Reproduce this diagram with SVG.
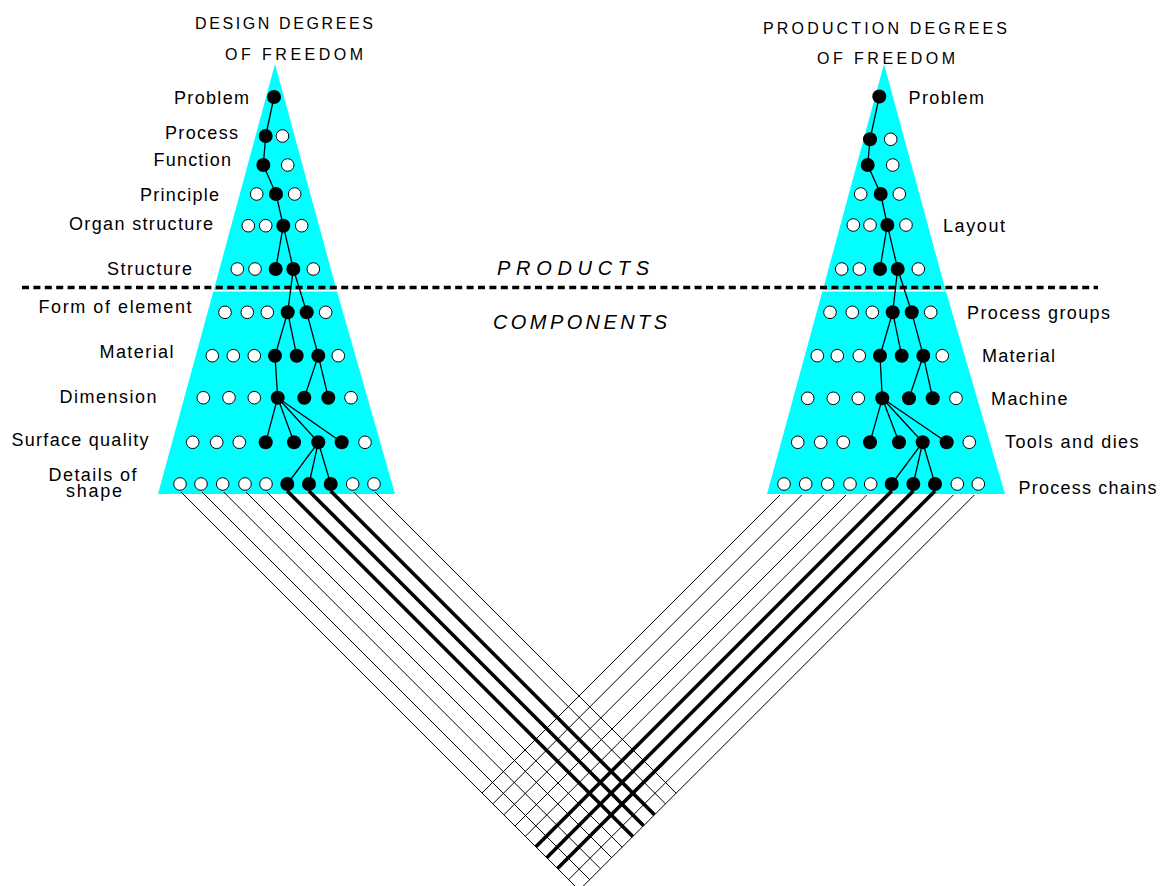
<svg xmlns="http://www.w3.org/2000/svg" width="1160" height="886" viewBox="0 0 1160 886">
<style>
.tri{fill:#00ffff;stroke:none}
.w{fill:#fff;stroke:#000;stroke-width:1}
.b{fill:#000;stroke:none}
.e{stroke:#000;stroke-width:1.3;fill:none}
.t{stroke:#000;stroke-width:1;fill:none}
.k{stroke:#000;stroke-width:3.6;fill:none}
.lbl{font-family:"Liberation Sans",Arial,sans-serif;font-size:18px;fill:#000}
.ttl{font-family:"Liberation Sans",Arial,sans-serif;font-size:16px;fill:#000}
.big{font-family:"Liberation Sans",Arial,sans-serif;font-size:20px;font-style:italic;fill:#000}
</style>
<rect width="1160" height="886" fill="#fff"/>
<g id="cone-left">
<polygon class="tri" points="275,64 213.8,290 336.5,290"/>
<polygon class="tri" points="213.3,291.5 337,291.5 395,494 158,494"/>
</g>
<g id="cone-right">
<polygon class="tri" points="884,64 822.8,290 945.5,290"/>
<polygon class="tri" points="822.3,291.5 946,291.5 1005,494 767,494"/>
</g>
<line id="divider" x1="22" y1="287.5" x2="1098" y2="287.5" stroke="#000" stroke-width="3.4" stroke-dasharray="7 4.4"/>
<g id="connectors">
<g id="tree-left">
<line class="e" x1="274" y1="97" x2="265.7" y2="136"/>
<line class="e" x1="265.7" y1="136" x2="263.3" y2="165"/>
<line class="e" x1="263.3" y1="165" x2="276" y2="194"/>
<line class="e" x1="276" y1="194" x2="283.3" y2="225.7"/>
<line class="e" x1="283.3" y1="225.7" x2="275.7" y2="269"/>
<line class="e" x1="283.3" y1="225.7" x2="293.3" y2="269"/>
<line class="e" x1="293.3" y1="269" x2="287.7" y2="312.3"/>
<line class="e" x1="293.3" y1="269" x2="306.7" y2="312.3"/>
<line class="e" x1="287.7" y1="312.3" x2="275" y2="355.7"/>
<line class="e" x1="287.7" y1="312.3" x2="296.7" y2="355.7"/>
<line class="e" x1="306.7" y1="312.3" x2="318.3" y2="355.7"/>
<line class="e" x1="275" y1="355.7" x2="277.7" y2="397.7"/>
<line class="e" x1="318.3" y1="355.7" x2="304.3" y2="397.7"/>
<line class="e" x1="318.3" y1="355.7" x2="328.3" y2="397.7"/>
<line class="e" x1="277.7" y1="397.7" x2="265.7" y2="442.3"/>
<line class="e" x1="277.7" y1="397.7" x2="294" y2="442.3"/>
<line class="e" x1="277.7" y1="397.7" x2="318.3" y2="442.3"/>
<line class="e" x1="277.7" y1="397.7" x2="341.7" y2="442.3"/>
<line class="e" x1="318.3" y1="442.3" x2="287.3" y2="484"/>
<line class="e" x1="318.3" y1="442.3" x2="309" y2="484"/>
<line class="e" x1="318.3" y1="442.3" x2="330.7" y2="484"/>
</g>
<g id="tree-right">
<line class="e" x1="879.3" y1="96.5" x2="870" y2="139.3"/>
<line class="e" x1="870" y1="139.3" x2="867.7" y2="165"/>
<line class="e" x1="867.7" y1="165" x2="880.7" y2="194"/>
<line class="e" x1="880.7" y1="194" x2="887.3" y2="225"/>
<line class="e" x1="887.3" y1="225" x2="880" y2="269"/>
<line class="e" x1="887.3" y1="225" x2="897.7" y2="269"/>
<line class="e" x1="897.7" y1="269" x2="892.7" y2="312.3"/>
<line class="e" x1="897.7" y1="269" x2="911.7" y2="312.3"/>
<line class="e" x1="892.7" y1="312.3" x2="880" y2="355.7"/>
<line class="e" x1="892.7" y1="312.3" x2="901.7" y2="355.7"/>
<line class="e" x1="911.7" y1="312.3" x2="923.3" y2="355.7"/>
<line class="e" x1="880" y1="355.7" x2="882.3" y2="398.3"/>
<line class="e" x1="923.3" y1="355.7" x2="909" y2="398.3"/>
<line class="e" x1="923.3" y1="355.7" x2="932.7" y2="398.3"/>
<line class="e" x1="882.3" y1="398.3" x2="870" y2="442.3"/>
<line class="e" x1="882.3" y1="398.3" x2="899" y2="442.3"/>
<line class="e" x1="882.3" y1="398.3" x2="922.7" y2="442.3"/>
<line class="e" x1="882.3" y1="398.3" x2="946.7" y2="442.3"/>
<line class="e" x1="922.7" y1="442.3" x2="891.7" y2="484"/>
<line class="e" x1="922.7" y1="442.3" x2="913.3" y2="484"/>
<line class="e" x1="922.7" y1="442.3" x2="935" y2="484"/>
</g>
<g id="chains-left">
<line class="t" x1="181" y1="492" x2="579.15" y2="890.15"/>
<line class="t" x1="202" y1="492" x2="589.65" y2="879.65"/>
<line class="t" x1="223.7" y1="492" x2="600.5" y2="868.8"/>
<line class="t" x1="246" y1="492" x2="611.65" y2="857.65"/>
<line class="t" x1="267" y1="492" x2="622.15" y2="847.15"/>
<line class="k" x1="287.3" y1="491" x2="632.8" y2="836.5"/>
<line class="k" x1="309" y1="491" x2="643.65" y2="825.65"/>
<line class="k" x1="330.7" y1="491" x2="654.5" y2="814.8"/>
<line class="t" x1="353.7" y1="492" x2="665.5" y2="803.8"/>
<line class="t" x1="375" y1="492" x2="676.15" y2="793.15"/>
</g>
<g id="chains-right">
<line class="t" x1="780" y1="495" x2="482" y2="793"/>
<line class="t" x1="801.7" y1="495" x2="492.85" y2="803.85"/>
<line class="t" x1="823.7" y1="495" x2="503.85" y2="814.85"/>
<line class="t" x1="846" y1="495" x2="515" y2="826"/>
<line class="t" x1="866.7" y1="495" x2="525.35" y2="836.35"/>
<line class="k" x1="891.7" y1="491" x2="535.85" y2="846.85"/>
<line class="k" x1="913.3" y1="491" x2="546.65" y2="857.65"/>
<line class="k" x1="935" y1="491" x2="557.5" y2="868.5"/>
<line class="t" x1="953.3" y1="495" x2="568.65" y2="879.65"/>
<line class="t" x1="974.3" y1="495" x2="579.15" y2="890.15"/>
</g>
</g>
<g id="left-problem"><circle class="b" cx="274" cy="97" r="7"/></g>
<g id="left-process"><circle class="b" cx="265.7" cy="136" r="7"/><circle class="w" cx="282.5" cy="136" r="6.3"/></g>
<g id="left-function"><circle class="b" cx="263.3" cy="165" r="7"/><circle class="w" cx="287.7" cy="165" r="6.3"/></g>
<g id="left-principle"><circle class="w" cx="256.7" cy="194" r="6.3"/><circle class="b" cx="276" cy="194" r="7"/><circle class="w" cx="294.7" cy="194" r="6.3"/></g>
<g id="left-organ"><circle class="w" cx="248.3" cy="225.7" r="6.3"/><circle class="w" cx="265.7" cy="225.7" r="6.3"/><circle class="b" cx="283.3" cy="225.7" r="7"/><circle class="w" cx="301.7" cy="225.7" r="6.3"/></g>
<g id="left-structure"><circle class="w" cx="237.3" cy="269" r="6.3"/><circle class="w" cx="255" cy="269" r="6.3"/><circle class="b" cx="275.7" cy="269" r="7"/><circle class="b" cx="293.3" cy="269" r="7"/><circle class="w" cx="313.3" cy="269" r="6.3"/></g>
<g id="left-form"><circle class="w" cx="225" cy="312.3" r="6.3"/><circle class="w" cx="247.3" cy="312.3" r="6.3"/><circle class="w" cx="267.3" cy="312.3" r="6.3"/><circle class="b" cx="287.7" cy="312.3" r="7"/><circle class="b" cx="306.7" cy="312.3" r="7"/><circle class="w" cx="325.7" cy="312.3" r="6.3"/></g>
<g id="left-material"><circle class="w" cx="212.3" cy="355.7" r="6.3"/><circle class="w" cx="233.3" cy="355.7" r="6.3"/><circle class="w" cx="254.3" cy="355.7" r="6.3"/><circle class="b" cx="275" cy="355.7" r="7"/><circle class="b" cx="296.7" cy="355.7" r="7"/><circle class="b" cx="318.3" cy="355.7" r="7"/><circle class="w" cx="338.3" cy="355.7" r="6.3"/></g>
<g id="left-dimension"><circle class="w" cx="203.3" cy="397.7" r="6.3"/><circle class="w" cx="229" cy="397.7" r="6.3"/><circle class="w" cx="254.3" cy="397.7" r="6.3"/><circle class="b" cx="277.7" cy="397.7" r="7"/><circle class="b" cx="304.3" cy="397.7" r="7"/><circle class="b" cx="328.3" cy="397.7" r="7"/><circle class="w" cx="351" cy="397.7" r="6.3"/></g>
<g id="left-surface"><circle class="w" cx="192.7" cy="442.3" r="6.3"/><circle class="w" cx="216.7" cy="442.3" r="6.3"/><circle class="w" cx="239.3" cy="442.3" r="6.3"/><circle class="b" cx="265.7" cy="442.3" r="7"/><circle class="b" cx="294" cy="442.3" r="7"/><circle class="b" cx="318.3" cy="442.3" r="7"/><circle class="b" cx="341.7" cy="442.3" r="7"/><circle class="w" cx="365" cy="442.3" r="6.3"/></g>
<g id="left-details"><circle class="w" cx="180" cy="484" r="6.3"/><circle class="w" cx="201" cy="484" r="6.3"/><circle class="w" cx="222.7" cy="484" r="6.3"/><circle class="w" cx="245" cy="484" r="6.3"/><circle class="w" cx="266" cy="484" r="6.3"/><circle class="b" cx="287.3" cy="484" r="7"/><circle class="b" cx="309" cy="484" r="7"/><circle class="b" cx="330.7" cy="484" r="7"/><circle class="w" cx="352.7" cy="484" r="6.3"/><circle class="w" cx="374" cy="484" r="6.3"/></g>
<g id="right-problem"><circle class="b" cx="879.3" cy="96.5" r="7"/></g>
<g id="right-r2"><circle class="b" cx="870" cy="139.3" r="7"/><circle class="w" cx="890.7" cy="139.3" r="6.3"/></g>
<g id="right-r3"><circle class="b" cx="867.7" cy="165" r="7"/><circle class="w" cx="892.7" cy="165" r="6.3"/></g>
<g id="right-r4"><circle class="w" cx="860.7" cy="194" r="6.3"/><circle class="b" cx="880.7" cy="194" r="7"/><circle class="w" cx="899.3" cy="194" r="6.3"/></g>
<g id="right-layout"><circle class="w" cx="853.3" cy="225" r="6.3"/><circle class="w" cx="870" cy="225" r="6.3"/><circle class="b" cx="887.3" cy="225" r="7"/><circle class="w" cx="906" cy="225" r="6.3"/></g>
<g id="right-r6"><circle class="w" cx="841.7" cy="269" r="6.3"/><circle class="w" cx="859.3" cy="269" r="6.3"/><circle class="b" cx="880" cy="269" r="7"/><circle class="b" cx="897.7" cy="269" r="7"/><circle class="w" cx="918.3" cy="269" r="6.3"/></g>
<g id="right-groups"><circle class="w" cx="830" cy="312.3" r="6.3"/><circle class="w" cx="852.3" cy="312.3" r="6.3"/><circle class="w" cx="872.3" cy="312.3" r="6.3"/><circle class="b" cx="892.7" cy="312.3" r="7"/><circle class="b" cx="911.7" cy="312.3" r="7"/><circle class="w" cx="930.7" cy="312.3" r="6.3"/></g>
<g id="right-material"><circle class="w" cx="817.3" cy="355.7" r="6.3"/><circle class="w" cx="837.3" cy="355.7" r="6.3"/><circle class="w" cx="859.3" cy="355.7" r="6.3"/><circle class="b" cx="880" cy="355.7" r="7"/><circle class="b" cx="901.7" cy="355.7" r="7"/><circle class="b" cx="923.3" cy="355.7" r="7"/><circle class="w" cx="942.3" cy="355.7" r="6.3"/></g>
<g id="right-machine"><circle class="w" cx="807.7" cy="398.3" r="6.3"/><circle class="w" cx="833.3" cy="398.3" r="6.3"/><circle class="w" cx="858.3" cy="398.3" r="6.3"/><circle class="b" cx="882.3" cy="398.3" r="7"/><circle class="b" cx="909" cy="398.3" r="7"/><circle class="b" cx="932.7" cy="398.3" r="7"/><circle class="w" cx="956" cy="398.3" r="6.3"/></g>
<g id="right-tools"><circle class="w" cx="797.7" cy="442.3" r="6.3"/><circle class="w" cx="820.7" cy="442.3" r="6.3"/><circle class="w" cx="843.3" cy="442.3" r="6.3"/><circle class="b" cx="870" cy="442.3" r="7"/><circle class="b" cx="899" cy="442.3" r="7"/><circle class="b" cx="922.7" cy="442.3" r="7"/><circle class="b" cx="946.7" cy="442.3" r="7"/><circle class="w" cx="969.3" cy="442.3" r="6.3"/></g>
<g id="right-chains"><circle class="w" cx="784" cy="484" r="6.3"/><circle class="w" cx="805.7" cy="484" r="6.3"/><circle class="w" cx="827.7" cy="484" r="6.3"/><circle class="w" cx="850" cy="484" r="6.3"/><circle class="w" cx="870.7" cy="484" r="6.3"/><circle class="b" cx="891.7" cy="484" r="7"/><circle class="b" cx="913.3" cy="484" r="7"/><circle class="b" cx="935" cy="484" r="7"/><circle class="w" cx="957.3" cy="484" r="6.3"/><circle class="w" cx="978.3" cy="484" r="6.3"/></g>
<g id="labels">
<text class="ttl" x="195" y="28.5" textLength="178" lengthAdjust="spacing">DESIGN DEGREES</text>
<text class="ttl" x="225" y="60" textLength="138" lengthAdjust="spacing">OF FREEDOM</text>
<text class="ttl" x="763" y="33.5" textLength="244" lengthAdjust="spacing">PRODUCTION DEGREES</text>
<text class="ttl" x="817" y="63.5" textLength="138" lengthAdjust="spacing">OF FREEDOM</text>
<text class="big" x="497" y="274.5" textLength="152" lengthAdjust="spacing">PRODUCTS</text>
<text class="big" x="493" y="328.5" textLength="174" lengthAdjust="spacing">COMPONENTS</text>
<text class="lbl" x="174" y="104" textLength="75" lengthAdjust="spacing">Problem</text>
<text class="lbl" x="165" y="139" textLength="73" lengthAdjust="spacing">Process</text>
<text class="lbl" x="153.5" y="165.5" textLength="77.5" lengthAdjust="spacing">Function</text>
<text class="lbl" x="140" y="201" textLength="79" lengthAdjust="spacing">Principle</text>
<text class="lbl" x="69" y="230" textLength="144" lengthAdjust="spacing">Organ structure</text>
<text class="lbl" x="107" y="275" textLength="85" lengthAdjust="spacing">Structure</text>
<text class="lbl" x="38.5" y="313" textLength="153" lengthAdjust="spacing">Form of element</text>
<text class="lbl" x="99.5" y="358" textLength="74" lengthAdjust="spacing">Material</text>
<text class="lbl" x="59.5" y="403" textLength="97" lengthAdjust="spacing">Dimension</text>
<text class="lbl" x="11.5" y="446" textLength="137" lengthAdjust="spacing">Surface quality</text>
<text class="lbl" x="48.5" y="480.5" textLength="88" lengthAdjust="spacing">Details of</text>
<text class="lbl" x="66" y="497" textLength="56" lengthAdjust="spacing">shape</text>
<text class="lbl" x="908.5" y="104" textLength="75.5" lengthAdjust="spacing">Problem</text>
<text class="lbl" x="943" y="231.5" textLength="62" lengthAdjust="spacing">Layout</text>
<text class="lbl" x="967" y="319" textLength="143" lengthAdjust="spacing">Process groups</text>
<text class="lbl" x="982" y="362" textLength="73" lengthAdjust="spacing">Material</text>
<text class="lbl" x="991" y="405" textLength="76.5" lengthAdjust="spacing">Machine</text>
<text class="lbl" x="1005" y="448" textLength="133.5" lengthAdjust="spacing">Tools and dies</text>
<text class="lbl" x="1018.5" y="494" textLength="138" lengthAdjust="spacing">Process chains</text>
</g>
</svg>
